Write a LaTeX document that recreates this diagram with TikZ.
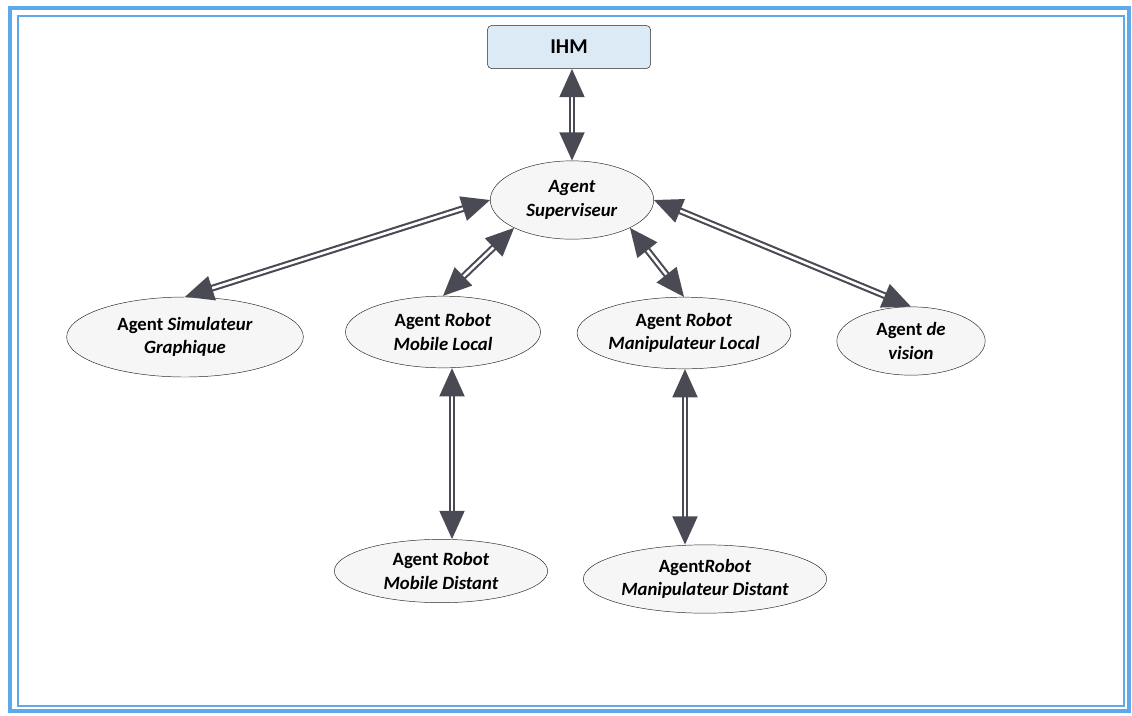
\documentclass[tikz,border=0pt]{standalone}
\usepackage{fontspec}
\setmainfont{Carlito}
\usetikzlibrary{arrows.meta, shapes.geometric}

\definecolor{framebl}{HTML}{5DA9E9}
\definecolor{ihmfill}{HTML}{DCEAF6}
\definecolor{tipgray}{HTML}{4A4A55}

\tikzset{
    agent/.style={ellipse, draw=black!85, thin, fill=gray!7, inner sep=0pt,
        align=center, font=\fontsize{16}{20}\selectfont\bfseries},
    link/.style={draw=tipgray, line width=1.8pt, double=white, double distance=2.2pt,
        {Triangle[length=8.5mm, width=7.5mm, fill=tipgray]}-{Triangle[length=8.5mm, width=7.5mm, fill=tipgray]}},
}

\begin{document}
\begin{tikzpicture}[x=0.03cm, y=-0.03cm]
                \useasboundingbox (0,0) rectangle (1132,715);
                % frame
                \draw[framebl, line width=3pt] (10,8) rectangle (1129,711);
                \draw[framebl, line width=2pt] (18,16) rectangle (1124,706);
                % nodes
                \node[draw=black!85, fill=ihmfill, rounded corners=4pt, minimum width=4.9cm,
                    minimum height=1.3cm, font=\fontsize{18}{22}\selectfont\bfseries] (ihm) at (569,47) {IHM};
                \node[agent, minimum width=4.9cm, minimum height=2.35cm] (superviseur) at (572,200)
                    {\textit{Agent}\\\textit{Superviseur}};
                \node[agent, minimum width=7.1cm, minimum height=2.4cm] (simulateur) at (185,337)
                    {Agent \textit{Simulateur}\\\textit{Graphique}};
                \node[agent, minimum width=5.85cm, minimum height=2.15cm] (mobilelocal) at (443,332)
                    {Agent \textit{Robot}\\\textit{Mobile Local}};
                \node[agent, minimum width=6.1cm, minimum height=2.15cm] (maniplocal) at (684,333)
                    {Agent \textit{Robot}\\\textit{Manipulateur Local}};
                \node[agent, minimum width=4.45cm, minimum height=2.05cm] (vision) at (911,341)
                    {Agent \textit{de}\\\textit{vision}};
                \node[agent, minimum width=6.4cm, minimum height=1.9cm] (mobiledistant) at (441,571)
                    {Agent \textit{Robot}\\\textit{Mobile Distant}};
                \node[agent, minimum width=7.3cm, minimum height=2.05cm] (manipdistant) at (705,579)
                    {Agent\textit{Robot}\\\textit{Manipulateur Distant}};
                % links
                \draw[link] (ihm.south -| 572,0) -- (superviseur.north);
                \draw[link] (superviseur.west) -- (simulateur.north);
                \draw[link] (superviseur.south west) -- (mobilelocal.north);
                \draw[link] (superviseur.south east) -- (maniplocal.north);
                \draw[link] (superviseur.east) -- (vision.north);
                \draw[link] (mobilelocal.south -| 452,0) -- (mobiledistant.north -| 452,0);
                \draw[link] (maniplocal.south -| 685,0) -- (manipdistant.north -| 685,0);
            \end{tikzpicture}
\end{document}
